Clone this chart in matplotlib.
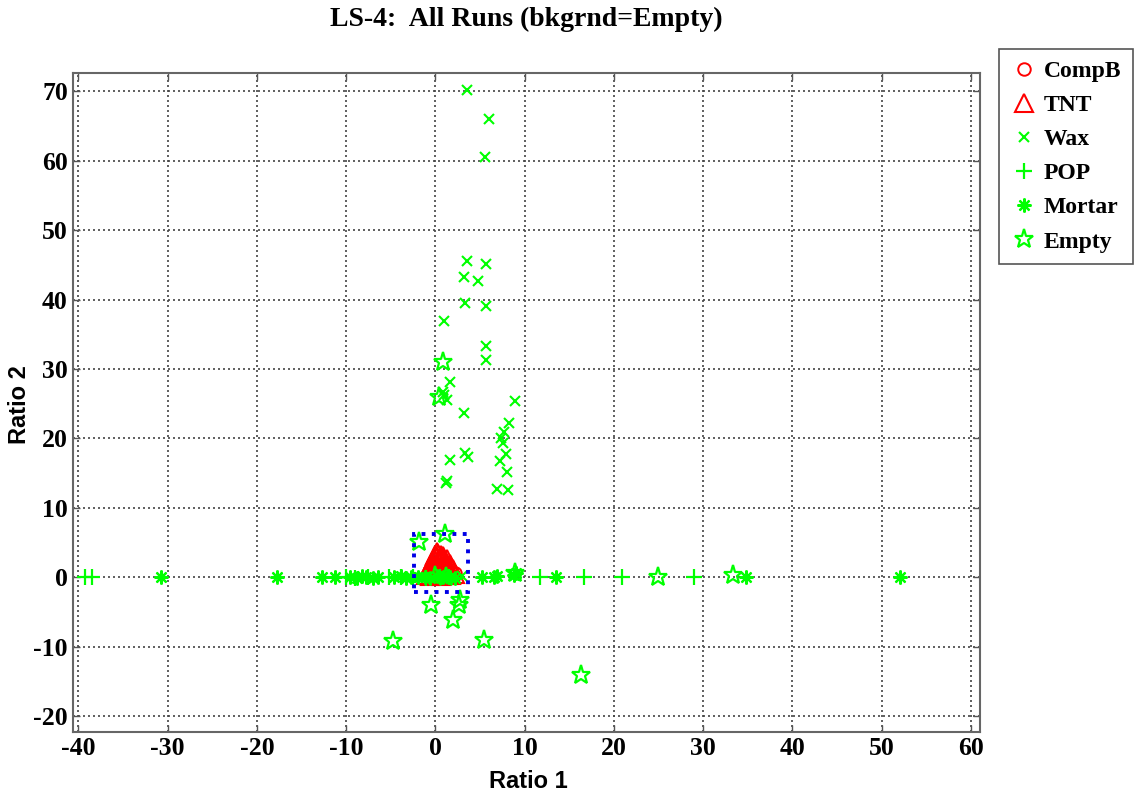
import matplotlib.pyplot as plt
from matplotlib.patches import Rectangle

plt.rcParams['axes.unicode_minus'] = False

# CompB (red circles)
compb_x = [0.4, 0.9, 1.3, 1.7, 2.2, 0.1, 1.0]
compb_y = [0.3, 0.6, 0.4, 0.8, 0.7, 0.9, 1.2]

# TNT (red triangles)
tnt_x = [-1.0, -0.6, -0.2, 0.2, 0.6, 1.0, 1.4, 1.8, 2.2,
         -0.8, -0.4, 0.0, 0.4, 0.8, 1.2, 1.6, 2.0,
         -0.6, -0.2, 0.2, 0.6, 1.0, 1.4, 1.8,
         -0.4, 0.0, 0.4, 0.8, 1.2, 1.6,
         -0.2, 0.2, 0.6, 1.0, 1.3,
         0.0, 0.3, 0.6, 0.9, 0.2]
tnt_y = [0.3, 0.2, 0.4, 0.3, 0.2, 0.4, 0.3, 0.4, 0.5,
         1.0, 1.0, 1.1, 0.9, 1.0, 1.1, 1.0, 1.2,
         1.6, 1.7, 1.6, 1.5, 1.7, 1.6, 1.5,
         2.2, 2.3, 2.2, 2.1, 2.2, 2.0,
         2.8, 2.9, 2.8, 2.7, 2.6,
         3.3, 3.4, 3.3, 3.1, 3.7]

# Wax (green x)
wax_x = [3.5, 6.0, 5.6, 3.5, 5.7, 3.2, 4.8, 3.3, 5.7, 1.0, 5.7, 5.7,
         1.6, 0.9, 1.3, 1.0, 8.9, 3.2, 8.3, 7.7, 7.3, 7.6, 1.6, 3.3,
         3.7, 7.9, 7.2, 8.0, 1.2, 1.3, 6.9, 8.1, 0.6, 1.8, 3.0]
wax_y = [70.1, 66.0, 60.5, 45.6, 45.1, 43.2, 42.6, 39.5, 39.1, 36.9, 33.3, 31.3,
         28.1, 26.7, 25.5, 26.3, 25.4, 23.7, 22.3, 21.0, 20.0, 19.3, 16.9, 17.9,
         17.3, 17.8, 16.8, 15.2, 13.6, 13.9, 12.8, 12.6, 0.3, -0.2, 0.2]

# POP (green +)
pop_x = [-39.2, -38.5, -10.0, -9.0, -7.5, -5.2, -3.8, -2.5, -1.0, 0.5, 1.5,
         11.7, 16.6, 20.9, 29.0]
pop_y = [0.0, 0.0, 0.1, -0.1, 0.0, 0.0, 0.1, 0.0, -0.1, 0.0, 0.1,
         0.0, 0.1, 0.0, 0.1]

# Mortar (green asterisks)
mortar_x = [-30.7, -17.7, -12.7, -11.2, -9.6, -8.8, -8.2, -7.8, -7.0, -6.4,
            -4.6, -3.9, -3.3, -2.7, -2.0, -1.2, -0.6, 0.2, 0.9, 1.6, 2.2,
            5.2, 6.6, 6.9, 8.8, 9.0, 13.5, 34.8, 52.0]
mortar_y = [0.0, 0.0, 0.0, 0.0, 0.1, -0.1, 0.2, 0.0, -0.1, 0.0,
            0.0, 0.2, -0.1, 0.1, 0.0, 0.1, -0.1, 0.2, 0.0, 0.1, -0.1,
            0.1, 0.0, 0.2, 0.3, 0.6, 0.0, 0.1, 0.0]

# Empty (green pentagrams)
empty_x = [-1.85, 1.1, 0.8, 0.4, -0.5, 2.7, 2.8, 2.0, -4.8, 5.4, 16.3,
           8.9, 24.9, 33.3, 0.0, 1.2]
empty_y = [5.1, 6.2, 31.0, 26.0, -3.9, -3.9, -3.3, -6.1, -9.2, -9.0, -14.0,
           0.6, 0.0, 0.4, 0.2, 0.0]

# zoom region around the origin
box_x = [-2.4, 3.7]
box_y = [-2.1, 6.3]

xticks = list(range(-40, 61, 10))
yticks = list(range(-20, 71, 10))

serif = 'Liberation Serif'
red = (1, 0, 0)
green = (0, 1, 0)

fig = plt.figure(figsize=(11.37, 7.97), dpi=100)
ax = fig.add_axes([0.0645, 0.0819, 0.797, 0.8265])

ax.plot(compb_x, compb_y, 'o', mfc='none', mec=red, ms=9, mew=1.4, label='CompB')
ax.plot(tnt_x, tnt_y, '^', mfc='none', mec=red, ms=13, mew=1.5, label='TNT')
ax.plot(wax_x, wax_y, 'x', color=green, ms=7.5, mew=1.5, label='Wax')
ax.plot(pop_x, pop_y, '+', color=green, ms=11, mew=1.6, label='POP')
ax.plot(mortar_x, mortar_y, marker=(8, 2, 0), ls='none', color=green, ms=10,
        mew=1.6, label='Mortar')
ax.plot(empty_x, empty_y, '*', mfc='none', mec=green, ms=14, mew=1.6, label='Empty')

ax.add_patch(Rectangle((box_x[0], box_y[0]), box_x[1] - box_x[0], box_y[1] - box_y[0],
                       fill=False, ec=(0, 0, 0.9), ls=':', lw=2.8, zorder=5))

ax.set_xlim(-40.56, 60.96)
ax.set_ylim(-22.2, 72.6)
ax.set_xticks(xticks)
ax.set_yticks(yticks)
ax.grid(True, ls=(0, (1.2, 1.8)), color='#444444', lw=1.2)
ax.set_axisbelow(True)
ax.tick_params(direction='in', length=5, width=1, top=True, right=True,
               labelsize=18.5, color='#555555', pad=4)
for lbl in ax.get_xticklabels() + ax.get_yticklabels():
    lbl.set_fontfamily(serif)
    lbl.set_fontweight('bold')
for sp in ax.spines.values():
    sp.set_color('#666666')
    sp.set_linewidth(1.5)

fig.text(528 / 1137, 1 - 781 / 797, 'Ratio 1', fontsize=17, fontweight='bold',
         family='Liberation Sans', ha='center', va='center')
fig.text(19 / 1137, 1 - 405 / 797, 'Ratio 2', fontsize=17, fontweight='bold',
         family='Liberation Sans', ha='center', va='center', rotation=90)
fig.text(526 / 1137, 1 - 19 / 797, 'LS-4:  All Runs (bkgrnd=Empty)', fontsize=20,
         fontweight='bold', family=serif, ha='center', va='center')

leg = ax.legend(loc='upper left', bbox_to_anchor=(999 / 1137, 1 - 49 / 797),
                bbox_transform=fig.transFigure, fancybox=False, framealpha=1,
                edgecolor='#555555', borderaxespad=0, handletextpad=0.3,
                handlelength=1.1, labelspacing=0.53, borderpad=0.5,
                prop={'family': serif, 'weight': 'bold', 'size': 17})
leg.get_frame().set_linewidth(1.2)

fig.savefig('out.png', dpi=100)
